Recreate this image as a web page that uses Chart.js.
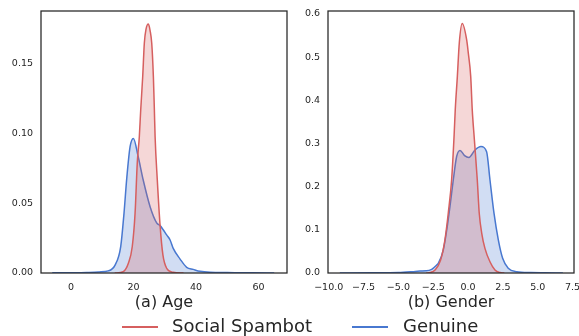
<!DOCTYPE html>
<html>
<head>
<meta charset="utf-8">
<script src="https://cdn.jsdelivr.net/npm/chart.js@4.4.1/dist/chart.umd.min.js"></script>
<style>
  body { margin: 0; background: #fff; width: 579px; height: 336px; overflow: hidden; position: relative;
         font-family: "DejaVu Sans", sans-serif; color: #262626; }
  canvas { position: absolute; left: 0; top: 0; }
  .title { position: absolute; top: 292px; font-size: 16px; line-height: 20px; text-align: center; width: 246px; }
  .leg { position: absolute; top: 315px; font-size: 18px; line-height: 22px; }
  .swatch { position: absolute; top: 326px; width: 36px; height: 2px; }
</style>
</head>
<body>
<canvas id="ageChart" width="579" height="312"></canvas>
<canvas id="genderChart" width="579" height="312"></canvas>
<div class="title" style="left:41px">(a) Age</div>
<div class="title" style="left:328px">(b) Gender</div>
<div class="swatch" style="left:122px;background:#d65f5f"></div>
<div class="leg" style="left:172px">Social Spambot</div>
<div class="swatch" style="left:352px;background:#4878d0"></div>
<div class="leg" style="left:403px">Genuine</div>
<script>
// KDE curves
var ageSpambotX = [14, 16.7, 18.35, 19.6, 20.5, 21.2, 21.86, 22.3, 22.94, 23.46, 24.0, 24.75, 25.3, 25.82, 26.35, 26.67, 26.9, 27.6, 28.5, 29.4, 30.6, 32.7, 36];
var ageSpambotY = [0, 0.001, 0.007, 0.019, 0.043, 0.079, 0.098, 0.117, 0.141, 0.165, 0.175, 0.1786, 0.174, 0.165, 0.141, 0.117, 0.098, 0.067, 0.034, 0.013, 0.0034, 0.0005, 0];

var ageGenuineX = [-6, 0, 5, 9, 11.9, 14.1, 15.9, 16.96, 17.8, 18.9, 19.95, 21.5, 23.1, 25.3, 27.4, 28.5, 29.5, 30.6, 31.7, 32.7, 34.9, 37, 39.1, 41.3, 44.5, 50, 58, 65];
var ageGenuineY = [0.0001, 0.0002, 0.0004, 0.0008, 0.0015, 0.0057, 0.019, 0.043, 0.067, 0.0906, 0.0966, 0.0834, 0.0667, 0.0476, 0.036, 0.034, 0.031, 0.0273, 0.0237, 0.0177, 0.010, 0.0041, 0.0026, 0.0012, 0.0005, 0.0003, 0.0001, 0];

var genderSpambotX = [-3.0, -2.73, -2.37, -1.97, -1.66, -1.42, -1.18, -1.0, -0.92, -0.77, -0.63, -0.42, -0.1, 0.015, 0.19, 0.30, 0.45, 0.66, 0.80, 0.98, 1.21, 1.57, 1.93, 2.29, 2.6];
var genderSpambotY = [0, 0.001, 0.007, 0.030, 0.077, 0.139, 0.216, 0.32, 0.378, 0.455, 0.533, 0.578, 0.54, 0.51, 0.455, 0.378, 0.31, 0.216, 0.139, 0.092, 0.057, 0.026, 0.007, 0.001, 0];

var genderGenuineX = [-9.2, -7, -5, -4, -3.45, -3.0, -2.61, -2.25, -2.14, -1.78, -1.53, -1.3, -1.06, -0.82, -0.58, -0.25, 0.06, 0.5, 0.925, 1.33, 1.57, 1.86, 2.17, 2.48, 2.88, 3.49, 4.5, 5.5, 6.8];
var genderGenuineY = [0, 0.0005, 0.001, 0.003, 0.0046, 0.005, 0.0086, 0.0186, 0.0225, 0.053, 0.10, 0.154, 0.216, 0.27, 0.284, 0.272, 0.2675, 0.285, 0.293, 0.281, 0.216, 0.1385, 0.0766, 0.034, 0.011, 0.003, 0.001, 0.0005, 0];

var ageXTicks = [0, 20, 40, 60];
var ageYTicks = [0, 0.05, 0.10, 0.15];
var genderXTicks = [-10, -7.5, -5, -2.5, 0, 2.5, 5, 7.5];
var genderYTicks = [0, 0.1, 0.2, 0.3, 0.4, 0.5, 0.6];

var red = '#d65f5f', blue = '#4878d0';
var ink = '#262626';

function pts(xs, ys) {
  return xs.map(function (x, i) { return { x: x, y: ys[i] }; });
}

function curve(label, xs, ys, color, fill) {
  return {
    label: label,
    data: pts(xs, ys),
    borderColor: color,
    backgroundColor: fill,
    borderWidth: 1.5,
    pointRadius: 0,
    fill: 'origin',
    cubicInterpolationMode: 'monotone'
  };
}

// full box around the plot area, seaborn "white" style
var frame = {
  id: 'frame',
  afterDraw: function (chart) {
    var a = chart.chartArea, ctx = chart.ctx;
    ctx.save();
    ctx.strokeStyle = ink;
    ctx.lineWidth = 1.25;
    ctx.strokeRect(a.left, a.top, a.right - a.left, a.bottom - a.top);
    ctx.restore();
  }
};

function makeChart(id, datasets, o) {
  return new Chart(document.getElementById(id), {
    type: 'line',
    data: { datasets: datasets },
    plugins: [frame],
    options: {
      responsive: false,
      animation: false,
      layout: { padding: { left: 0, top: 11, right: o.right, bottom: 0 } },
      plugins: { legend: { display: false }, tooltip: { enabled: false } },
      scales: {
        x: {
          type: 'linear', min: o.xmin, max: o.xmax,
          grid: { display: false, drawTicks: false },
          border: { display: false },
          ticks: { color: ink, font: { family: 'DejaVu Sans', size: 9.5 }, padding: 9, maxRotation: 0, autoSkip: false, callback: o.xfmt },
          afterBuildTicks: function (s) { s.ticks = o.xticks.map(function (v) { return { value: v }; }); },
          afterFit: function (s) { s.height = 39; s.paddingLeft = 0; s.paddingRight = 0; }
        },
        y: {
          type: 'linear', min: 0, max: o.ymax,
          grid: { display: false, drawTicks: false },
          border: { display: false },
          ticks: { color: ink, font: { family: 'DejaVu Sans', size: 9.5 }, padding: 8, callback: o.yfmt },
          afterBuildTicks: function (s) { s.ticks = o.yticks.map(function (v) { return { value: v }; }); },
          afterFit: function (s) { s.width = o.yw; s.paddingTop = 0; s.paddingBottom = 0; }
        }
      }
    }
  });
}

makeChart('ageChart', [
  curve('Social Spambot', ageSpambotX, ageSpambotY, red, 'rgba(214,95,95,0.25)'),
  curve('Genuine', ageGenuineX, ageGenuineY, blue, 'rgba(72,120,208,0.25)')
], {
  right: 292, yw: 41, xmin: -9.6, xmax: 69.1, ymax: 0.188,
  xticks: ageXTicks, yticks: ageYTicks,
  xfmt: function (v) { return String(v); },
  yfmt: function (v) { return v.toFixed(2); }
});

makeChart('genderChart', [
  curve('Social Spambot', genderSpambotX, genderSpambotY, red, 'rgba(214,95,95,0.25)'),
  curve('Genuine', genderGenuineX, genderGenuineY, blue, 'rgba(72,120,208,0.25)')
], {
  right: 5, yw: 328, xmin: -10.05, xmax: 7.6, ymax: 0.607,
  xticks: genderXTicks, yticks: genderYTicks,
  xfmt: function (v) { return (v < 0 ? '\u2212' : '') + Math.abs(v).toFixed(1); },
  yfmt: function (v) { return v.toFixed(1); }
});
</script>
</body>
</html>
